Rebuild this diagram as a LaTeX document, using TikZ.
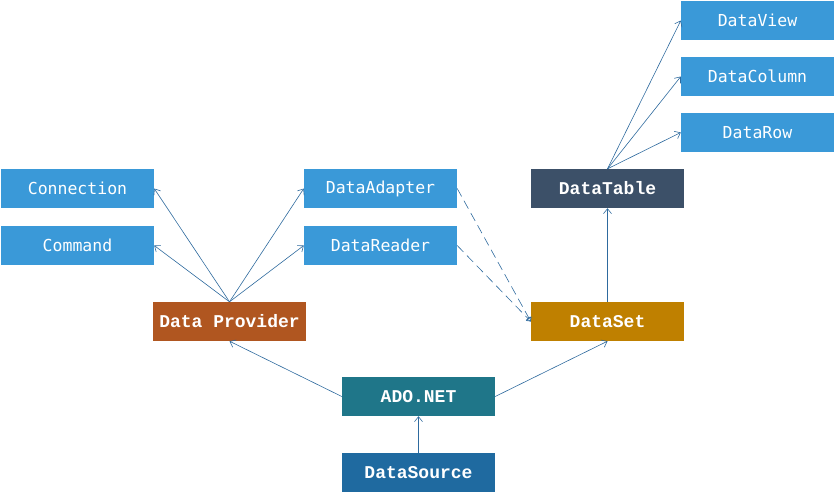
\documentclass[tikz,border=0pt]{standalone}
\usepackage{fontspec}
\newfontfamily\lightfont{DejaVu Sans Mono}
\newfontfamily\boldfont{Liberation Mono}[BoldFont={Liberation Mono Bold}]
\usetikzlibrary{arrows.meta}
\definecolor{lblue}{RGB}{58,153,216}
\definecolor{provc}{RGB}{176,86,32}
\definecolor{setc}{RGB}{191,128,0}
\definecolor{tablec}{RGB}{60,80,104}
\definecolor{adoc}{RGB}{31,118,137}
\definecolor{srcc}{RGB}{31,106,160}
\definecolor{linec}{RGB}{46,106,158}
\tikzset{
  box/.style={minimum width=153pt, minimum height=39pt, inner sep=0pt, text=white, draw=none},
  lbox/.style={box, fill=lblue, font=\lightfont\fontsize{16.5}{18}\selectfont},
  dbox/.style={box, font=\boldfont\bfseries\fontsize{18}{20}\selectfont},
  conn/.style={draw=linec, line width=0.6pt, -{Straight Barb[length=5pt,width=8pt]}},
  dconn/.style={conn, dash pattern=on 9pt off 5pt, -{Triangle[open,length=4pt,width=6pt]}}
}
\begin{document}
\begin{tikzpicture}[x=1pt,y=-1pt]
\useasboundingbox (0,0) rectangle (834,496);
\node[lbox] (conn) at (77.5,188.5) {Connection};
\node[lbox] (cmd) at (77.5,245.5) {Command};
\node[lbox] (adapter) at (380.5,188.5) {DataAdapter};
\node[lbox] (reader) at (380.5,245.5) {DataReader};
\node[dbox, fill=provc] (prov) at (229.5,321.5) {Data Provider};
\node[dbox, fill=setc] (set) at (607.5,321.5) {DataSet};
\node[dbox, fill=tablec] (table) at (607.5,188.5) {DataTable};
\node[lbox] (view) at (757.5,20.5) {DataView};
\node[lbox] (col) at (757.5,76.5) {DataColumn};
\node[lbox] (row) at (757.5,132.5) {DataRow};
\node[dbox, fill=adoc] (ado) at (418.5,396.5) {ADO.NET};
\node[dbox, fill=srcc] (src) at (418.5,472.5) {DataSource};

\draw[conn] (prov.north) -- (conn.east);
\draw[conn] (prov.north) -- (cmd.east);
\draw[conn] (prov.north) -- (adapter.west);
\draw[conn] (prov.north) -- (reader.west);
\draw[conn] (ado.west) -- (prov.south);
\draw[conn] (ado.east) -- (set.south);
\draw[conn] (src.north) -- (ado.south);
\draw[conn] (set.north) -- (table.south);
\draw[conn] (table.north) -- (view.west);
\draw[conn] (table.north) -- (col.west);
\draw[conn] (table.north) -- (row.west);
\draw[dconn] (adapter.east) -- (set.west);
\draw[dconn] (reader.east) -- (set.west);
\end{tikzpicture}
\end{document}
